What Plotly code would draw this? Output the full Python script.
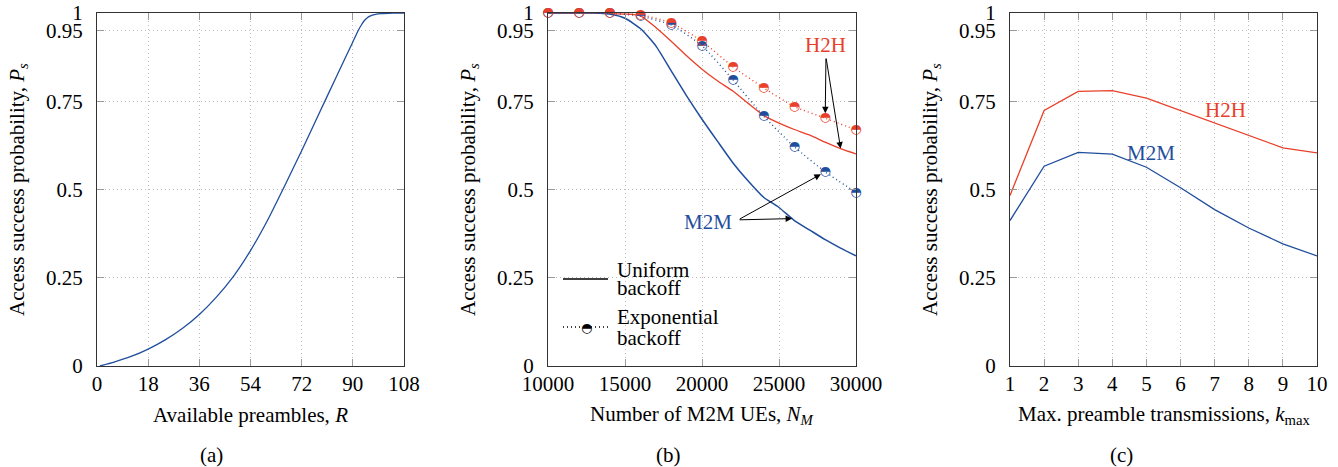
import numpy as np
import plotly.graph_objects as go

# ---------------- data ----------------
# (a) access success probability vs available preambles
R_vals = [1, 6, 12, 18, 24, 30, 36, 42, 48, 54, 60, 66, 72, 78, 84, 90, 92, 93, 94, 95, 96, 98, 100, 104, 108]
ps_a = [0.0, 0.011, 0.027, 0.048, 0.074, 0.106, 0.146, 0.195, 0.254, 0.327, 0.413, 0.51, 0.61,
        0.713, 0.816, 0.918, 0.952, 0.966, 0.978, 0.986, 0.991, 0.996, 0.998, 0.9995, 1.0]

# (b) vs number of M2M UEs
N_exp = [10000, 12000, 14000, 16000, 18000, 20000, 22000, 24000, 26000, 28000, 30000]
h2h_exp = [1.0, 1.0, 1.0, 0.995, 0.972, 0.920, 0.848, 0.788, 0.735, 0.702, 0.669]
m2m_exp = [1.0, 1.0, 1.0, 0.991, 0.966, 0.907, 0.811, 0.708, 0.621, 0.550, 0.492]
N_uni = [10000, 11000, 12000, 13000, 14000, 15000, 16000, 17000, 18000, 19000, 20000,
         21000, 22000, 23000, 24000, 25000, 26000, 27000, 28000, 29000, 30000]
h2h_uni = [1.0, 1.0, 1.0, 1.0, 0.998, 0.997, 0.992, 0.959, 0.920, 0.879, 0.841,
           0.808, 0.779, 0.744, 0.710, 0.688, 0.670, 0.654, 0.634, 0.616, 0.601]
m2m_uni = [1.0, 1.0, 1.0, 1.0, 0.997, 0.985, 0.956, 0.907, 0.836, 0.765, 0.699,
           0.637, 0.576, 0.524, 0.478, 0.449, 0.412, 0.385, 0.358, 0.334, 0.312]

# (c) vs max preamble transmissions
k_vals = [1, 2, 3, 4, 5, 6, 7, 8, 9, 10]
h2h_c = [0.483, 0.724, 0.778, 0.780, 0.759, 0.724, 0.688, 0.653, 0.618, 0.604]
m2m_c = [0.412, 0.566, 0.605, 0.600, 0.563, 0.505, 0.443, 0.391, 0.346, 0.312]

y_ticks = [0, 0.25, 0.5, 0.75, 0.95, 1]
y_ticktext = ["0", "0.25", "0.5", "0.75", "0.95", "1"]
xa_ticks = [0, 18, 36, 54, 72, 90, 108]
xb_ticks = [10000, 15000, 20000, 25000, 30000]
xb_ticktext = ["10000", "15000", "20000", "25000", "30000"]
xc_ticks = k_vals

# ---------------- style ----------------
RED = "#e8402a"
BLUE = "#1f4e9c"
FONT = "Liberation Serif"
FS = 21
W, H = 1338, 467
MARK = "\u25d3"  # circle with upper half filled

fig = go.Figure()

# (a)
fig.add_trace(go.Scatter(x=R_vals, y=ps_a, mode="lines", line=dict(color=BLUE, width=1.3, shape="spline", smoothing=0.5),
                         xaxis="x", yaxis="y"))

# (b) uniform backoff (solid)
fig.add_trace(go.Scatter(x=N_uni, y=h2h_uni, mode="lines", line=dict(color=RED, width=1.3, shape="spline", smoothing=0.6),
                         xaxis="x2", yaxis="y2"))
fig.add_trace(go.Scatter(x=N_uni, y=m2m_uni, mode="lines", line=dict(color=BLUE, width=1.5, shape="spline", smoothing=0.6),
                         xaxis="x2", yaxis="y2"))
# (b) exponential backoff (dotted + half-filled markers); red drawn last (on top)
for yy, col in [(m2m_exp, BLUE), (h2h_exp, RED)]:
    fig.add_trace(go.Scatter(x=N_exp, y=yy, mode="lines",
                             line=dict(color=col, width=1.4, dash="1px,3px", shape="spline", smoothing=0.6),
                             xaxis="x2", yaxis="y2"))
for yy, col in [(m2m_exp, BLUE), (h2h_exp, RED)]:
    fig.add_trace(go.Scatter(x=N_exp, y=yy, mode="text", text=[MARK] * len(N_exp), textposition="middle center",
                             textfont=dict(family="DejaVu Sans", size=13, color=col), cliponaxis=False,
                             xaxis="x2", yaxis="y2"))

# (c)
fig.add_trace(go.Scatter(x=k_vals, y=h2h_c, mode="lines", line=dict(color=RED, width=1.3), xaxis="x3", yaxis="y3"))
fig.add_trace(go.Scatter(x=k_vals, y=m2m_c, mode="lines", line=dict(color=BLUE, width=1.3), xaxis="x3", yaxis="y3"))

# ---------------- axes ----------------
ytop = 1 - 13 / H
ybot = 1 - 366 / H
axis_common = dict(showline=True, linecolor="#333333", linewidth=1, mirror="ticks",
                   ticks="inside", ticklen=7, tickcolor="#9a9a9a", tickwidth=1,
                   showgrid=True, gridcolor="#bdbdbd", griddash="1px,3px", gridwidth=1,
                   zeroline=False, automargin=False,
                   tickfont=dict(family=FONT, size=FS, color="black"))

doms = [(97, 404), (548, 856), (1010, 1317)]
xranges = [[0, 108], [10000, 30000], [1, 10]]
xtv = [xa_ticks, xb_ticks, xc_ticks]
xtt = [[str(v) for v in xa_ticks], xb_ticktext, [str(v) for v in xc_ticks]]
for i in range(3):
    sx = "" if i == 0 else str(i + 1)
    fig.layout["xaxis" + sx] = dict(domain=[doms[i][0] / W, doms[i][1] / W], range=xranges[i],
                                    tickvals=xtv[i], ticktext=xtt[i], anchor="y" + sx,
                                    ticklabelstandoff=-1, **axis_common)
    fig.layout["yaxis" + sx] = dict(domain=[ybot, ytop], range=[0, 1], tickvals=y_ticks, ticktext=y_ticktext,
                                    anchor="x" + sx, ticklabelstandoff=9, **axis_common)

ann = []
def pa(text, px, py, size=FS, color="black", angle=0, xanchor="center", family=FONT):
    ann.append(dict(text=text, x=px / W, y=1 - py / H, xref="paper", yref="paper", showarrow=False,
                    font=dict(family=family, size=size, color=color), textangle=angle,
                    xanchor=xanchor, yanchor="middle"))

ytitle = "Access success probability, <i>P</i><sub><i>s</i></sub>"
for cx in [18, 469, 931]:
    pa(ytitle, cx, 190, angle=-90)
pa("Available preambles, <i>R</i>", 250, 415)
pa("Number of M2M UEs, <i>N</i><sub><i>M</i></sub>", 702, 415)
pa("Max. preamble transmissions, <i>k</i><sub>max</sub>", 1164, 415)
pa("(a)", 211, 455)
pa("(b)", 668, 455)
pa("(c)", 1121, 455)

# manual legend in panel (b)
pa("Uniform", 615, 270, xanchor="left")
pa("backoff", 615, 288, xanchor="left")
pa("Exponential", 615, 317, xanchor="left")
pa("backoff", 615, 338, xanchor="left")
pa(MARK, 586, 327, size=13, family="DejaVu Sans")
shapes = [
    dict(type="line", xref="paper", yref="paper", x0=563 / W, x1=608 / W, y0=1 - 279 / H, y1=1 - 279 / H,
         line=dict(color="black", width=1.3)),
    dict(type="line", xref="paper", yref="paper", x0=563 / W, x1=608 / W, y0=1 - 327 / H, y1=1 - 327 / H,
         line=dict(color="black", width=1.3, dash="1px,3px")),
]

# panel labels
ann.append(dict(text="H2H", x=28050, y=0.91, xref="x2", yref="y2", showarrow=False,
                font=dict(family=FONT, size=FS, color=RED)))
ann.append(dict(text="M2M", x=20400, y=0.408, xref="x2", yref="y2", showarrow=False,
                font=dict(family=FONT, size=FS, color=BLUE)))
ann.append(dict(text="H2H", x=7.33, y=0.725, xref="x3", yref="y3", showarrow=False,
                font=dict(family=FONT, size=FS, color=RED)))
ann.append(dict(text="M2M", x=5.13, y=0.603, xref="x3", yref="y3", showarrow=False,
                font=dict(family=FONT, size=FS, color=BLUE)))

# arrows in panel (b)
def arrow(hx, hy, tx, ty, standoff=0):
    ann.append(dict(text="", x=hx, y=hy, ax=tx, ay=ty, xref="x2", yref="y2", axref="x2", ayref="y2",
                    showarrow=True, arrowhead=2, arrowsize=1.3, arrowwidth=1, arrowcolor="black",
                    standoff=standoff))

arrow(N_exp[9], h2h_exp[9], 28050, 0.875, standoff=5)
arrow(29000, float(np.interp(29000, N_uni, h2h_uni)), 28050, 0.875)
arrow(N_exp[9], m2m_exp[9], 22350, 0.414, standoff=5)
arrow(25850, float(np.interp(25850, N_uni, m2m_uni)), 22350, 0.414)

fig.update_layout(width=W, height=H, margin=dict(l=0, r=0, t=0, b=0, pad=0, autoexpand=False), showlegend=False,
                  plot_bgcolor="white", paper_bgcolor="white", annotations=ann, shapes=shapes,
                  font=dict(family=FONT, size=FS, color="black"))

fig.write_html("out.html")
